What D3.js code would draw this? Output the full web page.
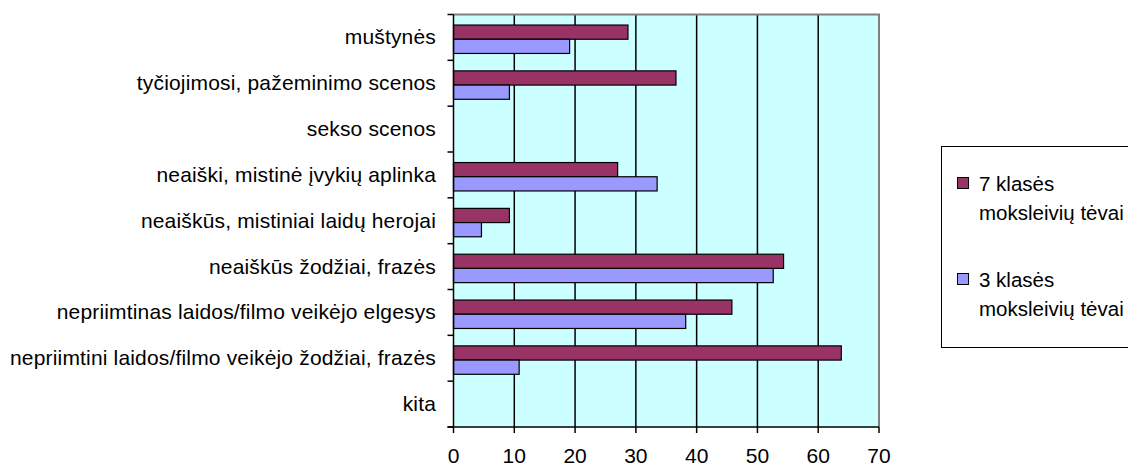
<!DOCTYPE html>
<html lang="lt">
<head>
  <meta charset="UTF-8">
  <title>Bar chart</title>
  <script src="https://d3js.org/d3.v7.min.js"></script>
  <style>
    body { margin: 0; background: #fff; font-family: "Liberation Sans", Arial, sans-serif; }
    svg { display: block; }
    text { font-size: 21px; fill: #000; }
    .cat { letter-spacing: 0.17px; }
    .leg { font-size: 20.5px; }
  </style>
</head>
<body>
  <svg width="1128" height="467"></svg>
  <script>
    const categories = [
      "muštynės",
      "tyčiojimosi, pažeminimo scenos",
      "sekso scenos",
      "neaiški, mistinė įvykių aplinka",
      "neaiškūs, mistiniai laidų herojai",
      "neaiškūs žodžiai, frazės",
      "nepriimtinas laidos/filmo veikėjo elgesys",
      "nepriimtini laidos/filmo veikėjo žodžiai, frazės",
      "kita"
    ];
    const grade7 = [28.7, 36.6, 0, 27.0, 9.2, 54.3, 45.8, 63.8, 0];
    const grade3 = [19.1, 9.2, 0, 33.5, 4.6, 52.6, 38.2, 10.8, 0];
    const seriesNames = [["7 klasės", "moksleivių tėvai"], ["3 klasės", "moksleivių tėvai"]];
    const colors = ["#993366", "#9999FF"];
    const xTicks = [0, 10, 20, 30, 40, 50, 60, 70];

    const svg = d3.select("svg");
    const plot = {left: 453.5, right: 879, top: 14.5, bottom: 427};

    const x = d3.scaleLinear().domain([0, 70]).range([plot.left, plot.right]);
    const y = d3.scaleBand().domain(categories).range([plot.top, plot.bottom]);
    const barH = y.bandwidth() * 0.31;
    const barOff = y.bandwidth() * 0.23;

    // plot background
    svg.append("rect")
      .attr("x", plot.left).attr("y", plot.top)
      .attr("width", plot.right - plot.left).attr("height", plot.bottom - plot.top)
      .attr("fill", "#CCFFFF");

    // grid lines
    svg.selectAll(".grid")
      .data(xTicks.filter(d => d > 0 && d < 70))
      .enter().append("line")
      .attr("x1", d => x(d)).attr("x2", d => x(d))
      .attr("y1", plot.top).attr("y2", plot.bottom)
      .attr("stroke", "#000").attr("stroke-width", 1.5);

    // gray border top / right
    svg.append("path")
      .attr("d", `M${plot.left},${plot.top}H${plot.right}V${plot.bottom}`)
      .attr("fill", "none").attr("stroke", "#808080").attr("stroke-width", 2);

    // bars
    const series = [grade7, grade3];
    series.forEach((vals, s) => {
      svg.selectAll(".bar" + s)
        .data(categories.map((c, i) => ({c, v: vals[i]})).filter(d => d.v > 0))
        .enter().append("rect")
        .attr("x", x(0))
        .attr("y", d => y(d.c) + barOff + s * barH)
        .attr("width", d => x(d.v) - x(0))
        .attr("height", barH)
        .attr("fill", colors[s])
        .attr("stroke", "#000").attr("stroke-width", 1.2);
    });

    // y axis
    const yAxis = svg.append("g");
    yAxis.append("line")
      .attr("x1", plot.left).attr("x2", plot.left)
      .attr("y1", plot.top).attr("y2", plot.bottom)
      .attr("stroke", "#000").attr("stroke-width", 1.5);
    const yEdges = categories.map(c => y(c)).concat([plot.bottom]);
    yAxis.selectAll(".yt").data(yEdges).enter().append("line")
      .attr("x1", plot.left - 6).attr("x2", plot.left)
      .attr("y1", d => d).attr("y2", d => d)
      .attr("stroke", "#000").attr("stroke-width", 1.5);
    yAxis.selectAll(".yl").data(categories).enter().append("text")
      .attr("class", "cat")
      .attr("x", 436)
      .attr("y", d => y(d) + y.bandwidth() / 2)
      .attr("dy", "0.33em")
      .attr("text-anchor", "end")
      .text(d => d);

    // x axis
    const xAxis = svg.append("g");
    xAxis.append("line")
      .attr("x1", plot.left - 6).attr("x2", plot.right)
      .attr("y1", plot.bottom).attr("y2", plot.bottom)
      .attr("stroke", "#000").attr("stroke-width", 1.5);
    xAxis.selectAll(".xt").data(xTicks).enter().append("line")
      .attr("x1", d => x(d)).attr("x2", d => x(d))
      .attr("y1", plot.bottom).attr("y2", plot.bottom + 6)
      .attr("stroke", "#000").attr("stroke-width", 1.5);
    xAxis.selectAll(".xl").data(xTicks).enter().append("text")
      .attr("x", d => x(d))
      .attr("y", 463)
      .attr("text-anchor", "middle")
      .text(d => d);

    // legend
    const lg = svg.append("g");
    lg.append("rect")
      .attr("x", 941.5).attr("y", 146.5)
      .attr("width", 200).attr("height", 201)
      .attr("fill", "#fff").attr("stroke", "#000").attr("stroke-width", 1);
    seriesNames.forEach((lines, s) => {
      const top = 177 + s * 96;
      lg.append("rect")
        .attr("x", 957.5).attr("y", top + 0.5)
        .attr("width", 11).attr("height", 11)
        .attr("fill", colors[s]).attr("stroke", "#000").attr("stroke-width", 1);
      lg.append("text").attr("class", "leg").attr("x", 979).attr("y", top + 14).text(lines[0]);
      lg.append("text").attr("class", "leg").attr("x", 979).attr("y", top + 43).text(lines[1]);
    });
  </script>
</body>
</html>
